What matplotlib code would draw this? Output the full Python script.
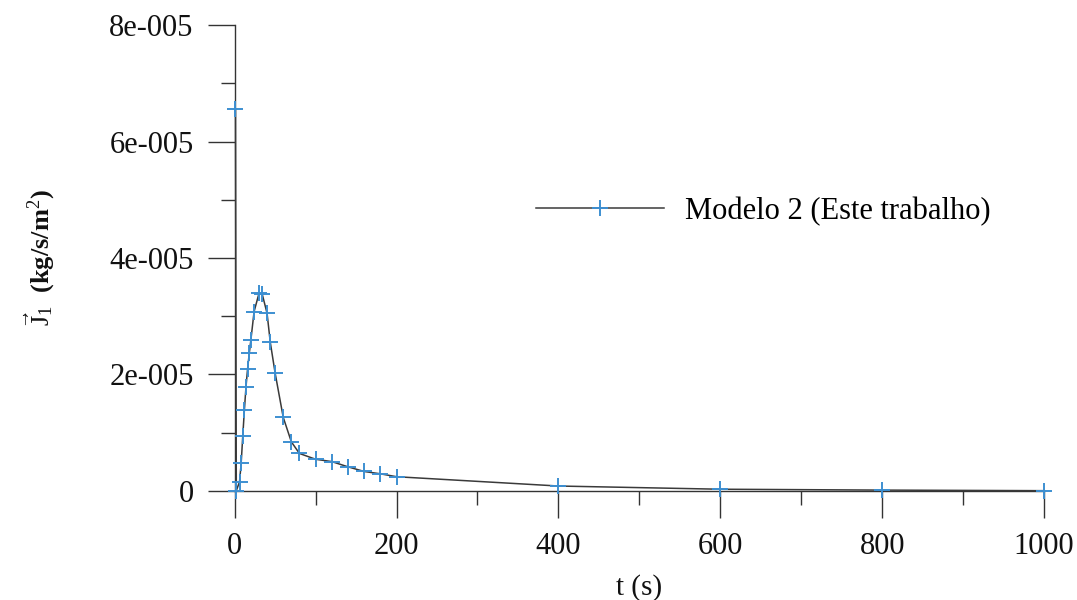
import matplotlib
matplotlib.use("Agg")
import matplotlib.pyplot as plt
from matplotlib.ticker import MultipleLocator, FuncFormatter

plt.rcParams['font.family'] = ['Liberation Serif', 'DejaVu Serif']
plt.rcParams['mathtext.fontset'] = 'custom'
plt.rcParams['mathtext.rm'] = 'Liberation Serif'
plt.rcParams['mathtext.it'] = 'Liberation Serif:italic'
plt.rcParams['mathtext.bf'] = 'Liberation Serif:bold'

# Data
t_s = [1, 2, 6, 8, 10, 12, 14, 16, 18, 20, 24, 30, 34, 40, 44, 50, 60, 70,
       80, 100, 120, 140, 160, 180, 200, 400, 600, 800, 1000]
flux = [65.6e-6, 0.0, 1.5e-6, 4.7e-6, 9.4e-6, 13.9e-6, 17.9e-6, 21.0e-6,
        23.6e-6, 25.9e-6, 30.8e-6, 33.9e-6, 33.8e-6, 30.5e-6, 25.5e-6,
        20.2e-6, 12.6e-6, 8.4e-6, 6.4e-6, 5.4e-6, 5.0e-6, 4.1e-6, 3.3e-6,
        2.9e-6, 2.4e-6, 0.8e-6, 0.25e-6, 0.1e-6, 0.0]
series_label = "Modelo 2 (Este trabalho)"
x_label = "t (s)"
y_label = r"$\vec{\mathrm{J}}_{\mathrm{1}}$  (kg/s/m$^{\mathrm{2}}$)"

fig = plt.figure(figsize=(10.77, 6.0), dpi=100)
ax = fig.add_axes([0.2179, 0.1822, 0.9694 - 0.2179, 0.9578 - 0.1822])

ax.plot(t_s, flux, color='#3a3a3a', lw=1.1, marker='+', markersize=11,
        markeredgecolor='#3d8fd1', markeredgewidth=1.4, label=series_label,
        clip_on=False, zorder=3)

ax.set_xlim(0, 1000)
ax.set_ylim(0, 8e-5)
ax.xaxis.set_major_locator(MultipleLocator(200))
ax.xaxis.set_minor_locator(MultipleLocator(100))
ax.yaxis.set_major_locator(MultipleLocator(2e-5))
ax.yaxis.set_minor_locator(MultipleLocator(1e-5))

def yfmt(v, pos):
    if abs(v) < 1e-12:
        return "0"
    return "%de-005" % round(v / 1e-5)

ax.yaxis.set_major_formatter(FuncFormatter(yfmt))

for s in ['top', 'right']:
    ax.spines[s].set_visible(False)
for s in ['left', 'bottom']:
    ax.spines[s].set_color('#333333')
    ax.spines[s].set_linewidth(1.0)

ax.tick_params(which='major', direction='out', length=19.5, width=1.0,
               color='#333333', labelsize=22, labelcolor='#111111')
ax.tick_params(which='minor', direction='out', length=10, width=1.0,
               color='#333333')
ax.tick_params(axis='y', which='major', pad=10)
ax.tick_params(axis='x', which='major', pad=10)

ax.set_xlabel(x_label, fontsize=21, color='#111111', labelpad=10)
ax.set_ylabel(y_label, fontsize=19, color='#111111', labelpad=38,
              fontweight='bold')

leg = ax.legend(loc='center left', bbox_to_anchor=(0.338, 0.60),
                frameon=False, fontsize=22, handlelength=4.2,
                handletextpad=0.7, numpoints=1, markerscale=1.0)

fig.savefig("out.png", dpi=100, facecolor='white')
